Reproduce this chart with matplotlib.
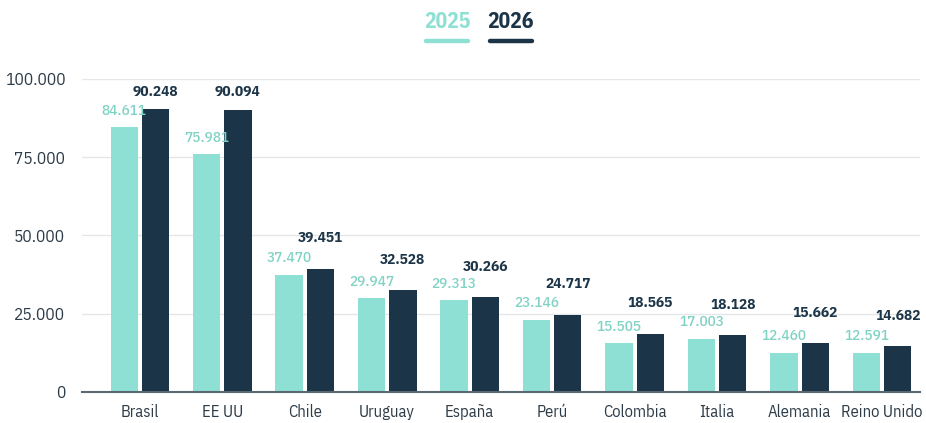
import numpy as np
import matplotlib
matplotlib.use('Agg')
import matplotlib.pyplot as plt
from matplotlib.lines import Line2D

paises = ['Brasil', 'EE UU', 'Chile', 'Uruguay', 'España', 'Perú',
          'Colombia', 'Italia', 'Alemania', 'Reino Unido']
v2025 = [84611, 75981, 37470, 29947, 29313, 23146, 15505, 17003, 12460, 12591]
v2026 = [90248, 90094, 39451, 32528, 30266, 24717, 18565, 18128, 15662, 14682]
yticks = [0, 25000, 50000, 75000, 100000]

c25 = '#8de0d3'
c25txt = '#80d2c5'
c26 = '#1b3447'
ctxt = '#2e3c48'

plt.rcParams['font.family'] = ['IBM Plex Sans Condensed', 'Roboto', 'DejaVu Sans']

def fmt(v):
    return f'{v:,}'.replace(',', '.')

fig = plt.figure(figsize=(9.26, 4.23), dpi=100)
ax = fig.add_axes([0.0886, 0.0733, 0.905, 0.74])

x = np.arange(len(paises))
w = 0.33
off = 0.19
ax.bar(x - off, v2025, w, color=c25, zorder=3)
ax.bar(x + off, v2026, w, color=c26, zorder=3)

for xi, v in zip(x, v2025):
    ax.annotate(fmt(v), (xi - off, v), xytext=(0, 9), textcoords='offset points',
                ha='center', va='baseline', fontsize=11, color=c25txt,
                fontweight='medium', zorder=4)
for xi, v, v0 in zip(x, v2026, v2025):
    # etiqueta 2026 se sube cuando quedaría junto a la de 2025
    dy = 10 if v - v0 > 5000 else 19
    ax.annotate(fmt(v), (xi + off, v), xytext=(0, dy), textcoords='offset points',
                ha='center', va='baseline', fontsize=11, color=c26,
                fontweight='bold', zorder=4)

ax.set_xlim(-0.70, 9.46)
ax.set_ylim(0, 100000)
ax.set_xticks(x)
ax.set_xticklabels(paises, fontsize=12, color=ctxt)
ax.set_yticks(yticks)
ax.set_yticklabels([fmt(t) for t in yticks], fontsize=12.5, color=ctxt)
ax.tick_params(length=0)
ax.tick_params(axis='y', pad=12)
ax.tick_params(axis='x', pad=9)
ax.grid(axis='y', color='#e4e6e8', linewidth=1, zorder=0)
for s in ['top', 'right', 'left']:
    ax.spines[s].set_visible(False)
ax.spines['bottom'].set_color('#5a6872')
ax.spines['bottom'].set_linewidth(1.5)
ax.spines['bottom'].set_zorder(5)

# leyenda superior
fig.text(0.4827, 0.948, '2025', ha='center', va='center', fontsize=15.5,
         fontweight='bold', color=c25)
fig.text(0.5515, 0.948, '2026', ha='center', va='center', fontsize=15.5,
         fontweight='bold', color=c26)
fig.add_artist(Line2D([0.460, 0.505], [0.904, 0.904], color=c25, lw=3.2,
                      solid_capstyle='round', transform=fig.transFigure))
fig.add_artist(Line2D([0.529, 0.574], [0.904, 0.904], color=c26, lw=3.2,
                      solid_capstyle='round', transform=fig.transFigure))

plt.savefig('out.png', dpi=100)
